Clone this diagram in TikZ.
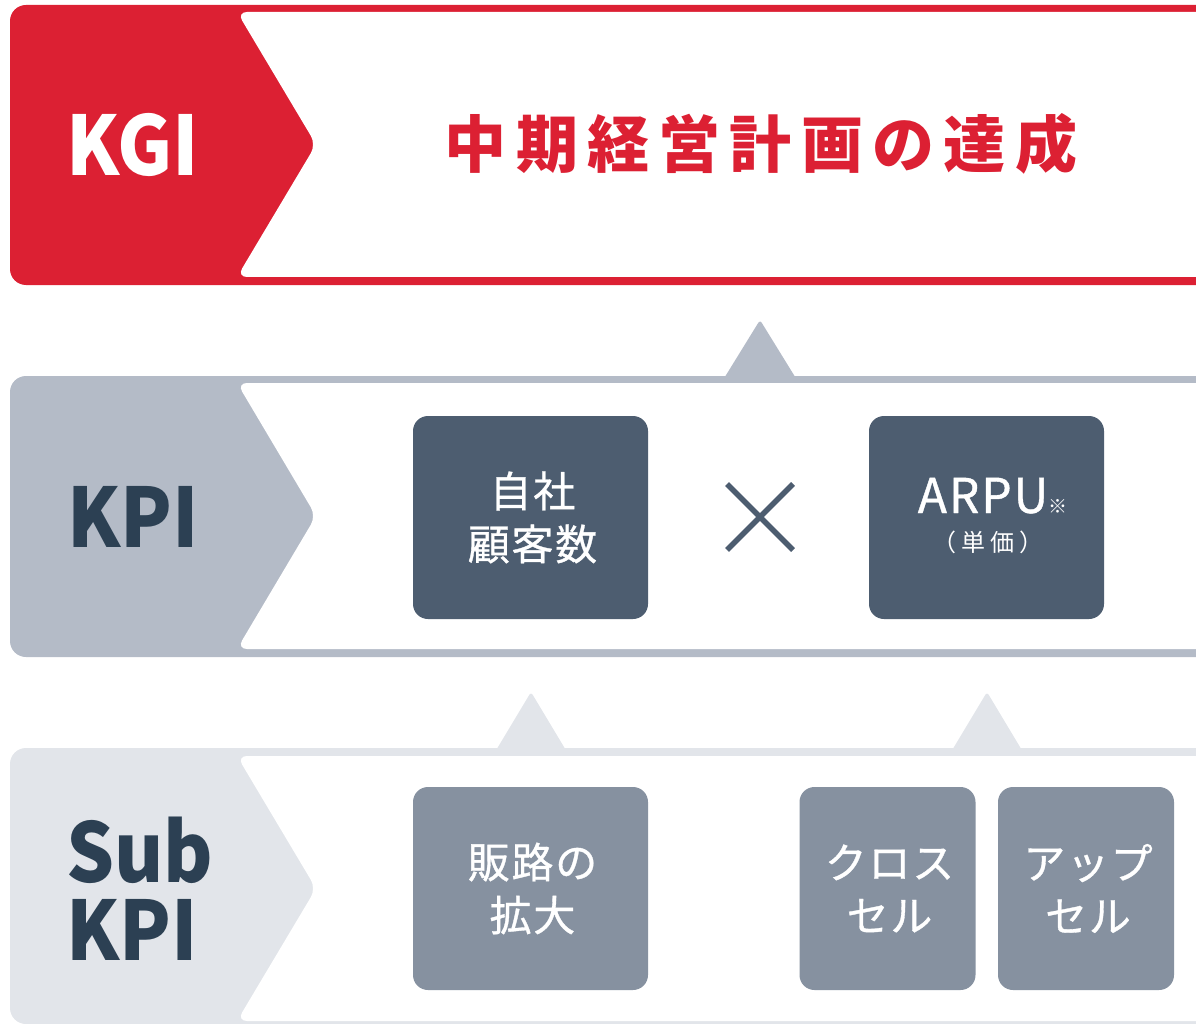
\documentclass[tikz,border=0pt]{standalone}
\usepackage{fontspec}
\newfontfamily\jp{Noto Sans CJK JP}
\newfontfamily\jptag[FakeStretch=0.92]{Noto Sans CJK JP}
\newfontfamily\jpbox[FakeBold=0.8,LetterSpace=4]{Noto Sans CJK JP}
\newfontfamily\jpgoal[LetterSpace=15]{Noto Sans CJK JP}
\newfontfamily\jpunit[LetterSpace=20]{Noto Sans CJK JP}
\definecolor{kgired}{HTML}{DC2033}
\definecolor{kpigray}{HTML}{B4BBC7}
\definecolor{subgray}{HTML}{E2E5EA}
\definecolor{inkblue}{HTML}{2C4053}
\definecolor{kpifill}{HTML}{4D5D70}
\definecolor{subfill}{HTML}{8691A0}

\begin{document}
\begin{tikzpicture}[x=1pt,y=-1pt,
    cut/.style={fill=white,rounded corners=10},
    tag/.style={inner sep=0,align=left,font=\jptag\bfseries\fontsize{82}{78}\selectfont},
    kpibox/.style={fill=kpifill,rounded corners=15,minimum width=235,minimum height=203,
        inner sep=0,text=white,align=center,font=\jpbox\fontsize{42}{53}\selectfont},
    subbox/.style={kpibox,fill=subfill},
    up/.style={rounded corners=3}]
    \clip (0,0) rectangle (1196,1024);

    %% bands
    \fill [kgired,rounded corners=16]  (10,5)   rectangle (1230,285);
    \fill [cut] (237,12) -- (1230,12) -- (1230,277) -- (237,277) -- (316,144.5) -- cycle;
    \fill [kpigray,rounded corners=16] (10,376) rectangle (1230,657);
    \fill [cut] (237,383) -- (1230,383) -- (1230,649) -- (237,649) -- (316,516) -- cycle;
    \fill [subgray,rounded corners=16] (10,748) rectangle (1230,1024);
    \fill [cut] (237,756) -- (1230,756) -- (1230,1021) -- (237,1021) -- (316,888.5) -- cycle;

    %% arrows up
    \fill [kpigray,up] (723,380) -- (760,320) -- (797,380) -- cycle;
    \fill [subgray,up] (495,752) -- (531,692) -- (567,752) -- cycle;
    \fill [subgray,up] (951,752) -- (987,692) -- (1023,752) -- cycle;

    %% level tags
    \node [tag,text=white]   (kgi)    at (133,145) {KGI};
    \node [tag,text=inkblue] (kpi)    at (133,517) {KPI};
    \node [tag,text=inkblue,anchor=west] (subkpi) at (66,889) {Sub\\KPI};

    %% goal
    \node [text=kgired,inner sep=0,font=\jpgoal\bfseries\fontsize{62}{62}\selectfont] (goal) at (761,144) {中期経営計画の達成};

    %% kpi
    \node [kpibox] (users) at (530.5,517.5) {\hspace*{4pt}自社\\\hspace*{4pt}顧客数};
    \node [kpibox] (arpu)  at (986.5,517.5) {};
    \node [text=white,inner sep=0,anchor=base,font=\jpbox\fontsize{48}{48}\selectfont] (arpuname) at (983,513) {ARPU};
    \node [text=white,inner sep=0,anchor=base west,font=\jp\fontsize{19}{19}\selectfont] (arpunote) at (arpuname.base east) {※};
    \node [text=white,inner sep=0,font=\jpunit\fontsize{24}{24}\selectfont] (arpuunit) at (988,542) {（単価）};
    \draw [kpifill,line width=5.5] (727,484) -- (793,550) (727,550) -- (793,484);

    %% sub kpi
    \node [subbox] (channel) at (530.5,888.5) {\hspace*{4pt}販路の\\\hspace*{4pt}拡大};
    \node [subbox,minimum width=176] (cross) at (887.5,888.5) {\hspace*{4pt}クロス\\\hspace*{4pt}セル};
    \node [subbox,minimum width=176] (upsell) at (1086,888.5) {\hspace*{4pt}アップ\\\hspace*{4pt}セル};
\end{tikzpicture}
\end{document}
